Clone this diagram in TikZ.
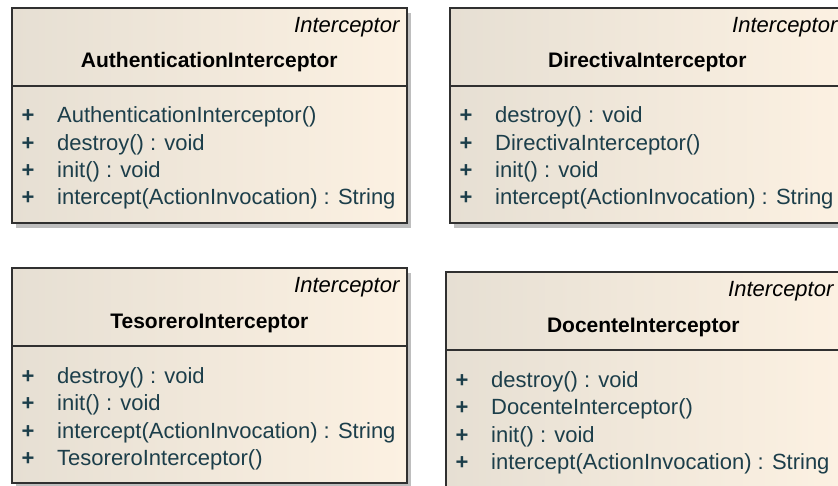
\documentclass[tikz,border=0pt]{standalone}
\usepackage{fontspec}
\setmainfont{Liberation Sans}
\usepackage{tikz}

\definecolor{boxleft}{RGB}{230,223,211}
\definecolor{boxright}{RGB}{252,241,226}
\definecolor{boxline}{RGB}{48,48,48}
\definecolor{shadowgray}{RGB}{190,190,190}
\definecolor{membertext}{RGB}{28,62,74}

\tikzset{
  classbox/.style={draw=boxline, line width=1.6pt, left color=boxleft, right color=boxright,
                   minimum width=395pt, minimum height=215pt, inner sep=0pt},
  classline/.style={draw=boxline, line width=1.6pt},
  stereo/.style={font=\fontsize{22}{24}\selectfont\itshape, anchor=base east, inner sep=0pt},
  classname/.style={font=\fontsize{21}{24}\selectfont\bfseries, anchor=base, inner sep=0pt},
  member/.style={font=\fontsize{22}{24}\selectfont, text=membertext, anchor=base west, inner sep=0pt},
  visib/.style={font=\fontsize{22}{24}\selectfont\bfseries, text=membertext, anchor=base, inner sep=0pt}
}

% #1 name, #2 x, #3 y (top left, in px), #4 class name, #5-#8 operations
\newcommand{\classbox}[8]{%
  \fill[shadowgray] (#2+5,#3+6) rectangle ++(395,215);
  \node[classbox, anchor=north west] (#1) at (#2,#3) {};
  \draw[classline] ([yshift=-79pt]#1.north west) -- ([yshift=-79pt]#1.north east);
  \node[stereo] (#1-st) at ([xshift=-8pt,yshift=-26pt]#1.north east) {Interceptor};
  \node[classname] (#1-nm) at ([yshift=-61pt]#1.north) {#4};
  \node[visib] at ([xshift=17pt,yshift=-116pt]#1.north west) {+};
  \node[visib] at ([xshift=17pt,yshift=-143.5pt]#1.north west) {+};
  \node[visib] at ([xshift=17pt,yshift=-171pt]#1.north west) {+};
  \node[visib] at ([xshift=17pt,yshift=-198pt]#1.north west) {+};
  \node[member] (#1-a) at ([xshift=46pt,yshift=-116pt]#1.north west) {#5};
  \node[member] (#1-b) at ([xshift=46pt,yshift=-143.5pt]#1.north west) {#6};
  \node[member] (#1-c) at ([xshift=46pt,yshift=-171pt]#1.north west) {#7};
  \node[member] (#1-d) at ([xshift=46pt,yshift=-198pt]#1.north west) {#8};
}

\begin{document}
\begin{tikzpicture}[x=1pt, y=-1pt]

\useasboundingbox (0,0) rectangle (838,486);
\clip (0,0) rectangle (838,486);

\classbox{auth}{11}{7}{AuthenticationInterceptor}
  {AuthenticationInterceptor()}{destroy() : void}{init() : void}{intercept(ActionInvocation) : String}

\classbox{directiva}{449}{7}{DirectivaInterceptor}
  {destroy() : void}{DirectivaInterceptor()}{init() : void}{intercept(ActionInvocation) : String}

\classbox{tesorero}{11}{267}{TesoreroInterceptor}
  {destroy() : void}{init() : void}{intercept(ActionInvocation) : String}{TesoreroInterceptor()}

\classbox{docente}{445}{271}{DocenteInterceptor}
  {destroy() : void}{DocenteInterceptor()}{init() : void}{intercept(ActionInvocation) : String}

\end{tikzpicture}
\end{document}
